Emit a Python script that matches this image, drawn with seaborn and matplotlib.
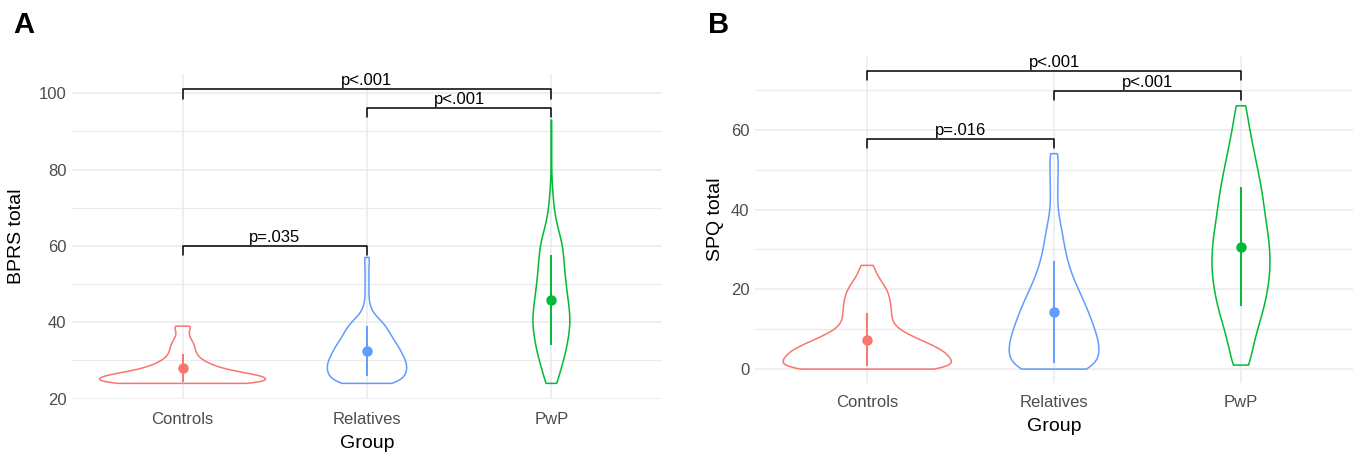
import numpy as np
import pandas as pd
import matplotlib
matplotlib.use("Agg")
import matplotlib.pyplot as plt
import seaborn as sns

# ---- data (values and how often each occurs) ----
groups = ["Controls", "Relatives", "PwP"]
colors = ["#F8766D", "#619CFF", "#00BA38"]

# panel A : BPRS total
ctrl_a_vals = [24, 25, 26, 27, 28, 29, 30, 31, 32, 33, 34, 35, 36, 37, 38, 39]
ctrl_a_counts = [110, 110, 105, 70, 48, 36, 26, 20, 17, 16, 15, 13, 9, 8, 8, 14]
rel_a_vals = [24, 25, 26, 27, 28, 29, 30, 31, 32, 33, 34, 35, 36, 37, 38, 39, 40,
              41, 42, 43, 44, 45, 47, 49, 51, 53, 55, 57]
rel_a_counts = [44, 36, 40, 41, 42, 42, 40, 38, 36, 34, 32, 29, 26, 24, 22, 20, 17,
                12, 7, 5, 3, 4, 4, 4, 4, 4, 4, 6]
pwp_a_vals = [24, 27, 30, 33, 36, 39, 42, 45, 48, 51, 54, 57, 60, 63, 66, 69, 72,
              75, 78, 81, 84, 87, 90, 93]
pwp_a_counts = [20, 27, 39, 48, 54, 60, 60, 54, 50, 45, 42, 39, 37, 27, 16, 10, 6,
                4, 1, 1, 1, 1, 1, 1]
mean_a = [28.1, 32.5, 45.9]
sd_a = [3.7, 6.5, 11.8]
brackets_a = [(0, 1), (1, 2), (0, 2)]
bracket_y_a = [60.0, 96.2, 101.0]
bracket_lab_a = ["p=.035", "p<.001", "p<.001"]

# panel B : SPQ total
ctrl_b_vals = list(range(0, 27))
ctrl_b_counts = [150, 83, 88, 90, 87, 80, 70, 60, 50, 40, 32, 28, 26, 26, 26, 26,
                 25, 25, 24, 23, 21, 19, 15, 12, 9, 7, 12]
rel_b_vals = [0, 2, 4, 6, 8, 10, 12, 14, 16, 18, 20, 22, 24, 26, 28, 30, 32, 34, 36,
              38, 40, 42, 44, 46, 48, 50, 52, 54]
rel_b_counts = [60, 44, 47, 48, 45, 42, 39, 36, 33, 29, 25, 21, 18, 15, 13, 11, 10,
                9, 7, 5, 4, 3, 4, 4, 4, 4, 4, 7]
pwp_b_vals = [1, 4, 7, 10, 13, 16, 19, 22, 25, 28, 31, 34, 37, 40, 43, 46, 49, 52,
              55, 58, 61, 64, 66]
pwp_b_counts = [12, 10, 14, 17, 21, 25, 27, 29, 31, 30, 30, 28, 26, 24, 23, 21, 18,
                16, 13, 11, 8, 5, 6]
mean_b = [7.4, 14.3, 30.7]
sd_b = [6.6, 12.8, 14.9]
brackets_b = [(0, 1), (1, 2), (0, 2)]
bracket_y_b = [57.7, 69.7, 74.7]
bracket_lab_b = ["p=.016", "p<.001", "p<.001"]

# widest point of each violin (fraction of the category slot)
vwidth_a = [0.9, 0.43, 0.2]
vwidth_b = [0.9, 0.48, 0.31]


def make_frame(vals, counts):
    rows = []
    for g, v, c in zip(groups, vals, counts):
        rows.append(pd.DataFrame({"Group": g, "score": np.repeat(v, c)}))
    return pd.concat(rows, ignore_index=True)


df_a = make_frame([ctrl_a_vals, rel_a_vals, pwp_a_vals],
                  [ctrl_a_counts, rel_a_counts, pwp_a_counts])
df_b = make_frame([ctrl_b_vals, rel_b_vals, pwp_b_vals],
                  [ctrl_b_counts, rel_b_counts, pwp_b_counts])

sns.set_theme(style="whitegrid")
plt.rcParams["font.family"] = ["Liberation Sans", "DejaVu Sans"]

fig = plt.figure(figsize=(13.58, 4.55), dpi=100)
ax_a = fig.add_axes([0.053, 0.123, 0.4345, 0.714])
ax_b = fig.add_axes([0.556, 0.159, 0.4404, 0.718])


def draw_panel(ax, df, widths, means, sds, pairs, ys, labels, ylabel, ylim,
               major, minor, tip, ypad):
    # one violin per call so each keeps its own width
    for g, col, w in zip(groups, colors, widths):
        sns.violinplot(data=df[df["Group"] == g], x="Group", y="score",
                       order=groups, color=col, fill=False, cut=0, inner=None,
                       density_norm="width", width=w, bw_method=0.22,
                       linewidth=1.1, ax=ax)
    # mean +/- sd
    for i, (m, s) in enumerate(zip(means, sds)):
        ax.errorbar(i, m, yerr=s, fmt="o", color=colors[i], ms=6.5,
                    elinewidth=1.4, capsize=0, zorder=5)
    # significance brackets
    for (x1, x2), y, lab in zip(pairs, ys, labels):
        ax.plot([x1, x1, x2, x2], [y - tip, y, y, y - tip], color="black", lw=1.1)
        ax.text((x1 + x2) / 2, y + 0.3, lab, ha="center", va="bottom",
                fontsize=12, color="black")
    ax.set_xlim(-0.6, 2.6)
    ax.set_ylim(*ylim)
    ax.set_yticks(major)
    ax.set_yticks(minor, minor=True)
    ax.grid(True, which="major", color="#EBEBEB", lw=1.1)
    ax.grid(True, which="minor", axis="y", color="#EBEBEB", lw=0.8)
    ax.set_axisbelow(True)
    for sp in ax.spines.values():
        sp.set_visible(False)
    ax.tick_params(axis="both", length=0, labelsize=12, labelcolor="#4D4D4D", pad=4)
    ax.tick_params(axis="x", pad=9)
    ax.set_xlabel("Group", fontsize=14, labelpad=6, color="black")
    ax.set_ylabel(ylabel, fontsize=14, labelpad=ypad, color="black")


draw_panel(ax_a, df_a, vwidth_a, mean_a, sd_a, brackets_a, bracket_y_a,
           bracket_lab_a, "BPRS total", (19.9, 105), [20, 40, 60, 80, 100],
           [30, 50, 70, 90], 2.5, 10)
draw_panel(ax_b, df_b, vwidth_b, mean_b, sd_b, brackets_b, bracket_y_b,
           bracket_lab_b, "SPQ total", (-3.4, 78.5), [0, 20, 40, 60],
           [10, 30, 50, 70], 2.3, 5)

fig.text(0.0095, 0.928, "A", fontsize=21, fontweight="bold", va="baseline",
         color="black")
fig.text(0.521, 0.928, "B", fontsize=21, fontweight="bold", va="baseline",
         color="black")

fig.savefig("out.png", dpi=100)
